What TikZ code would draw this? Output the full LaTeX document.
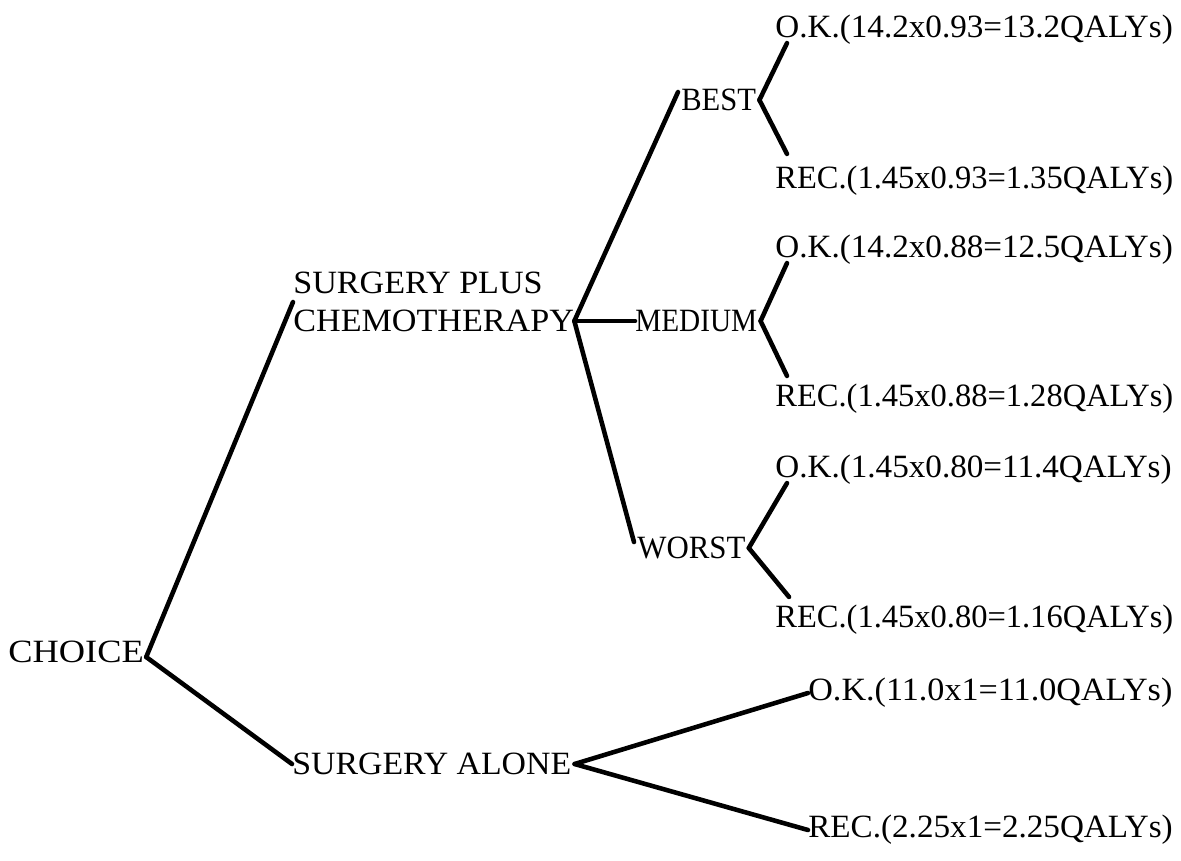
\documentclass[tikz,border=0pt]{standalone}
\usepackage{fontspec}
\setmainfont{Liberation Serif}
\usetikzlibrary{calc}
\begin{document}
\begin{tikzpicture}[x=0.02cm,y=-0.02cm,
  lbl/.style={anchor=west,inner sep=0pt,text=black,
    font=\fontsize{18.5}{22}\selectfont\addfontfeature{FakeStretch=#1}},
  lbl/.default=1,
  br/.style={draw=black,line width=2.6pt,line cap=round,line join=round}]
\useasboundingbox (0,0) rectangle (1181,860);
% nodes
\node[lbl=1.02] (ok1) at (775,30) {O.K.(14.2x0.93=13.2QALYs)};
\node[lbl=0.94] (best) at (681,100) {BEST};
\node[lbl=1.0] (rec1) at (775,181) {REC.(1.45x0.93=1.35QALYs)};
\node[lbl=1.02] (ok2) at (775,250) {O.K.(14.2x0.88=12.5QALYs)};
\node[lbl=1.05,align=left] (spc) at (293,302) {SURGERY PLUS\\CHEMOTHERAPY};
\node[lbl=0.9] (med) at (635,321) {MEDIUM};
\node[lbl=1.0] (rec2) at (775,399) {REC.(1.45x0.88=1.28QALYs)};
\node[lbl=1.02] (ok3) at (775,470) {O.K.(1.45x0.80=11.4QALYs)};
\node[lbl=0.95] (worst) at (637,548) {WORST};
\node[lbl=1.0] (rec3) at (775,620) {REC.(1.45x0.80=1.16QALYs)};
\node[lbl=1.12] (choice) at (8,652) {CHOICE};
\node[lbl=1.05] (ok4) at (808,693) {O.K.(11.0x1=11.0QALYs)};
\node[lbl=1.04] (sa) at (292,764) {SURGERY ALONE};
\node[lbl=1.02] (rec4) at (808,830) {REC.(2.25x1=2.25QALYs)};
% junctions
\coordinate (j0) at ($(choice.east)+(2,5)$);
\coordinate (j1) at (spc.east |- med.west);
\coordinate (j2) at ($(best.east)+(3,0)$);
\coordinate (j3) at ($(med.east)+(3,0)$);
\coordinate (j4) at ($(worst.east)+(3,0)$);
\coordinate (j5) at ($(sa.east)+(3,0)$);
% connectors
\draw[br] (j0) -- (spc.west);
\draw[br] (j0) -- (sa.west);
\draw[br] (j1) -- ($(best.west)+(-3,-8)$);
\draw[br] (j1) -- (med.west);
\draw[br] (j1) -- ($(worst.west)+(-3,-6)$);
\draw[br] (j2) -- ($(ok1.south west)+(12,-2)$);
\draw[br] (j2) -- ($(rec1.north west)+(12,-12)$);
\draw[br] (j3) -- ($(ok2.south west)+(12,-2)$);
\draw[br] (j3) -- ($(rec2.north west)+(12,-8)$);
\draw[br] (j4) -- ($(ok3.south west)+(12,-2)$);
\draw[br] (j4) -- ($(rec3.north west)+(14,-8)$);
\draw[br] (j5) -- (ok4.west);
\draw[br] (j5) -- (rec4.west);
\end{tikzpicture}
\end{document}
